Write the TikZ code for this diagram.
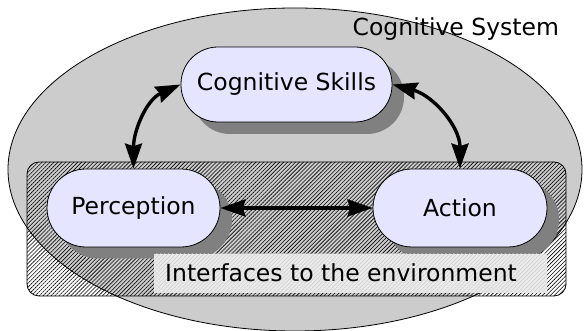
\documentclass[tikz,border=0pt]{standalone}
\usepackage{fontspec}
\setmainfont{DejaVu Sans}
\usetikzlibrary{arrows.meta,patterns.meta}
\definecolor{ellgray}{HTML}{CCCCCC}
\definecolor{nodefill}{HTML}{E5E5FF}
\definecolor{shadowgray}{HTML}{808080}
\begin{document}
\begin{tikzpicture}[x=1pt,y=1pt,
  txt/.style={font=\fontsize{23.5pt}{28pt}\selectfont},
  pill/.style={draw=black, line width=0.8pt, fill=nodefill, rounded corners=37pt, inner sep=0pt, txt},
  shadowbox/.style={fill=shadowgray, rounded corners=37pt, inner sep=0pt},
  arr/.style={line width=3.4pt, {Stealth[length=25pt,width=17pt,inset=2.5pt]}-{Stealth[length=25pt,width=17pt,inset=2.5pt]}},
  hatch/.style={pattern={Lines[angle=45,distance=2.8pt,line width=0.6pt]}}]
\useasboundingbox (0,0) rectangle (584,331);
% outer ellipse
\fill[ellgray] (295,161.5) ellipse [x radius=287, y radius=161.5];
\node[txt, anchor=base west, inner sep=0pt] (sys) at (352.5,295.5) {Cognitive System};
\draw[line width=0.8pt] (295,161.5) ellipse [x radius=287, y radius=161.5];
% interfaces region
\path[hatch] (27,35) [rounded corners=12pt] rectangle (566,169);
\draw[line width=0.8pt, rounded corners=12pt] (27,35) rectangle (566,169);
% centres
\coordinate (csC) at (286.5,246.5);
\coordinate (pcC) at (133.5,123);
\coordinate (acC) at (460,123);
% shadows
\node[shadowbox, minimum width=211pt, minimum height=75pt] (csS) at ([shift={(12,-12)}]csC) {};
\node[shadowbox, minimum width=173pt, minimum height=78pt, rounded corners=39pt] (pcS) at ([shift={(12,-11.5)}]pcC) {};
\node[shadowbox, minimum width=174pt, minimum height=78pt, rounded corners=39pt] (acS) at ([shift={(12,-11.5)}]acC) {};
% label box
\fill[black!8] (154,38) rectangle (547,77);
\path[pattern={Lines[angle=45,distance=2.8pt,line width=0.5pt]}, pattern color=black!20] (154,38) rectangle (547,77);
\node[txt, anchor=base west, inner sep=0pt] (ifl) at (165,49.3) {Interfaces to the environment};
% main nodes
\node[pill, minimum width=211pt, minimum height=75pt] (cs) at (csC) {Cognitive Skills};
\node[pill, minimum width=173pt, minimum height=78pt, rounded corners=39pt] (pc) at (pcC) {Perception};
\node[pill, minimum width=174pt, minimum height=78pt, rounded corners=39pt] (ac) at (acC) {Action};
% connectors
\draw[arr] (pc.east) to[out=0,in=180] (ac.west);
\draw[arr] (cs.west) to[out=204,in=90] (pc.north);
\draw[arr] (cs.east) to[out=-15,in=90] (ac.north);
\end{tikzpicture}
\end{document}
